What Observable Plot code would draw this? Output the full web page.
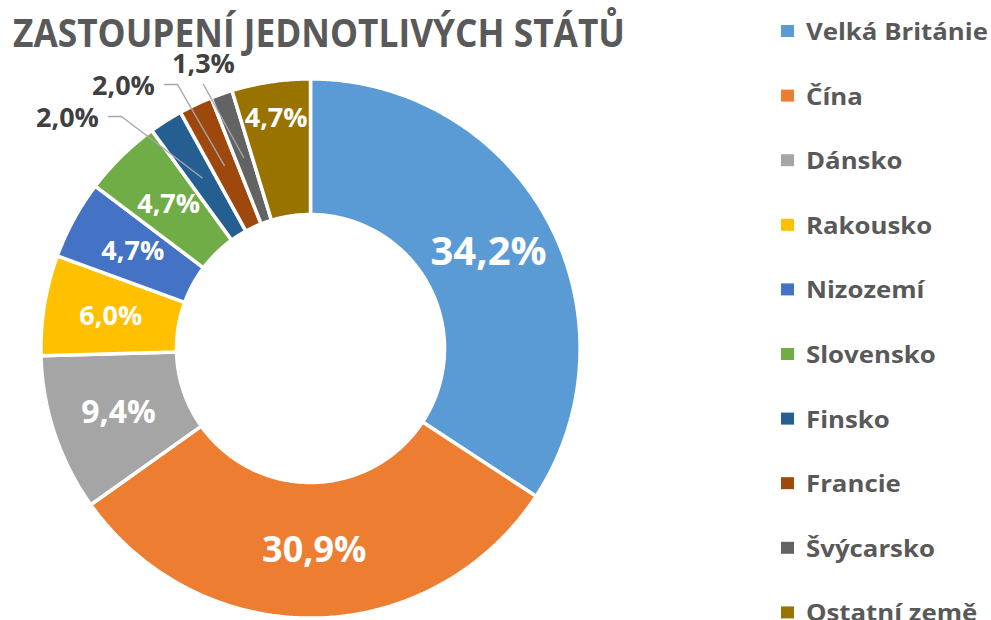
<!DOCTYPE html>
<html>
<head>
<meta charset="utf-8">
<script src="https://cdn.jsdelivr.net/npm/d3@7"></script>
<script src="https://cdn.jsdelivr.net/npm/@observablehq/plot@0.6"></script>
<style>
  body { margin: 0; background: #fff; }
  #wrap { position: relative; width: 991px; height: 620px; overflow: hidden; }
  #chart, #overlay { position: absolute; left: 0; top: 0; }
</style>
</head>
<body>
<div id="wrap"><div id="chart"></div><svg id="overlay" width="991" height="620"></svg></div>
<script>
// ---- data ----
const countries = ["Velká Británie", "Čína", "Dánsko", "Rakousko", "Nizozemí", "Slovensko", "Finsko", "Francie", "Švýcarsko", "Ostatní země"];
const shares = [34.2, 30.9, 9.4, 6.0, 4.7, 4.7, 2.0, 2.0, 1.3, 4.7];
const colors = ["#5B9BD5", "#ED7D31", "#A5A5A5", "#FFC000", "#4472C4", "#70AD47", "#255E91", "#9E480E", "#636363", "#997300"];
const titleText = "ZASTOUPENÍ JEDNOTLIVÝCH STÁTŮ";

// ---- layout (pixels relative to donut centre; radius 268px) ----
const PX = 268;
const outsideLabels = {
  "Finsko":    { dx: -243, dy: -230, side: "right" },
  "Francie":   { dx: -187, dy: -262, side: "right" },
  "Švýcarsko": { dx: -107, dy: -284, side: "bottom" }
};
const labelRadius = { "Ostatní země": 0.87 };
const R1 = 1.006, R0 = 0.5, RMID = 0.755;

// ---- geometry ----
const total = d3.sum(shares);
let acc = 0;
const slices = countries.map((name, i) => {
  const a0 = acc / total * 2 * Math.PI;
  acc += shares[i];
  const a1 = acc / total * 2 * Math.PI;
  return { name, value: shares[i], a0, a1, mid: (a0 + a1) / 2 };
});
const pts = [];
for (const s of slices) {
  const n = Math.max(2, Math.ceil((s.a1 - s.a0) / (Math.PI / 360)));
  const ring = [];
  for (let k = 0; k <= n; k++) { const a = s.a0 + (s.a1 - s.a0) * k / n; ring.push([Math.sin(a) * R1, Math.cos(a) * R1]); }
  for (let k = n; k >= 0; k--) { const a = s.a0 + (s.a1 - s.a0) * k / n; ring.push([Math.sin(a) * R0, Math.cos(a) * R0]); }
  ring.push(ring[0]);
  for (const [x, y] of ring) pts.push({ name: s.name, x, y });
}
const fmt = v => v.toFixed(1).replace(".", ",") + "%";
const inside = slices.filter(s => !outsideLabels[s.name]).map(s => {
  const r = labelRadius[s.name] ?? RMID;
  return { ...s, x: Math.sin(s.mid) * r, y: Math.cos(s.mid) * r, label: fmt(s.value) };
});
const outside = slices.filter(s => outsideLabels[s.name]).map(s => {
  const o = outsideLabels[s.name];
  return { ...s, x: o.dx / PX, y: -o.dy / PX, label: fmt(s.value) };
});
const leaders = [];
for (const s of outside) {
  const o = outsideLabels[s.name];
  const end = [Math.sin(s.mid) * RMID, Math.cos(s.mid) * RMID];
  let path;
  if (o.side === "right") {
    const ax = (o.dx + 41) / PX, ay = -(o.dy - 2) / PX;
    path = [[ax, ay], [ax + 13 / PX, ay], end];
  } else {
    const ax = o.dx / PX, ay = -(o.dy + 20) / PX;
    path = [[ax, ay], end];
  }
  for (const [x, y] of path) leaders.push({ name: s.name, x, y });
}
const fontSizeFor = v => v > 32 ? 40 : v > 20 ? 36 : v > 8 ? 32 : 27;

const chart = Plot.plot({
  width: 991,
  height: 620,
  margin: 0,
  style: { fontFamily: "'Open Sans', sans-serif", background: "transparent" },
  x: { domain: [-1, 1], range: [42, 578], axis: null },
  y: { domain: [-1, 1], range: [616, 80], axis: null },
  color: { type: "ordinal", domain: countries, range: colors },
  marks: [
    Plot.line(pts, { x: "x", y: "y", z: "name", fill: "name", stroke: "white", strokeWidth: 3.5, strokeLinejoin: "miter" }),
    Plot.line(leaders, { x: "x", y: "y", z: "name", stroke: "#A6A6A6", strokeWidth: 1.4 }),
    Plot.text(inside, { x: "x", y: "y", text: "label", fill: "white", fontWeight: "bold", fontSize: d => fontSizeFor(d.value) }),
    Plot.text(outside, { x: "x", y: "y", text: "label", fill: "#404040", fontWeight: "bold", fontSize: d => fontSizeFor(d.value) })
  ]
});
document.getElementById("chart").appendChild(chart);

// ---- title and legend ----
const ov = d3.select("#overlay").style("font-family", "'Open Sans', sans-serif");
ov.append("text").attr("x", 13).attr("y", 46.5)
  .attr("font-size", 40).attr("font-weight", "bold").attr("fill", "#595959")
  .attr("textLength", 612).attr("lengthAdjust", "spacingAndGlyphs")
  .text(titleText);

const step = 64.6;
const lg = ov.append("g");
const items = lg.selectAll("g").data(countries).join("g")
  .attr("transform", (d, i) => `translate(0,${31 + i * step})`);
items.append("rect").attr("x", 781).attr("y", -6).attr("width", 13).attr("height", 12)
  .attr("fill", (d, i) => colors[i]);
const texts = items.append("text").attr("x", 0).attr("y", 9)
  .attr("font-size", 24).attr("font-weight", "bold").attr("fill", "#595959")
  .text(d => d);
const natural = texts.nodes()[0].getComputedTextLength();
const sx = natural > 0 ? 182 / natural : 1;
texts.attr("transform", `translate(806,0) scale(${sx},1)`);
</script>
</body>
</html>
